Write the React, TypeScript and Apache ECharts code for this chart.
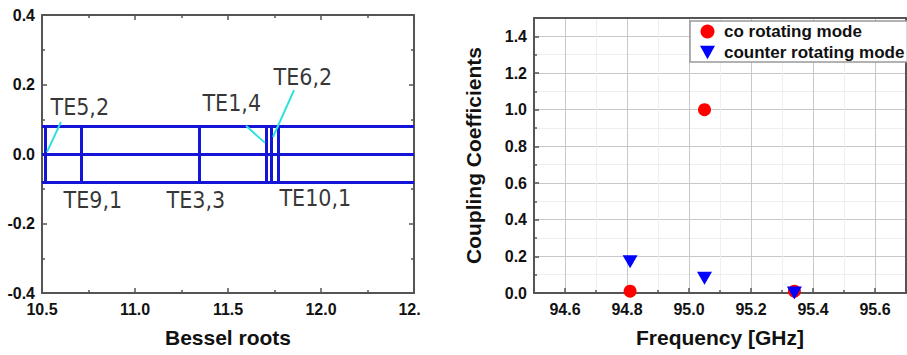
import React, { useEffect, useRef } from "react";
import * as echarts from "echarts";

// ---- Left panel: Bessel roots ----
const hLevels = [0.08, 0, -0.08];
const modeNames = ["TE5,2", "TE9,1", "TE3,3", "TE1,4", "TE6,2", "TE10,1"];
const besselRoots = [10.52, 10.71, 11.345, 11.703, 11.732, 11.768];
const labelX = [10.543, 10.613, 11.167, 11.36, 11.742, 11.774];
const labelY = [0.135, -0.132, -0.132, 0.147, 0.222, -0.127];
const pointerFrom = [
  [10.602, 0.092],
  [11.597, 0.081],
  [11.855, 0.184],
];
const pointerTo = [
  [10.527, 0.006],
  [11.699, 0.032],
  [11.742, 0.049],
];
const besselRange = [10.5, 12.5];
const rootHalfHeight = 0.08;

// ---- Right panel: coupling coefficients ----
const freqs = [94.81, 95.05, 95.34];
const coRotating = [0.01, 1.0, 0.01];
const counterRotating = [0.17, 0.08, 0.0];

const FONT = "'Liberation Sans', Arial, sans-serif";
const NARROW = "'Liberation Sans Narrow', 'Arial Narrow', 'DejaVu Sans Condensed', sans-serif";
const AXIS_COLOR = "#555";

export default function App() {
  const ref = useRef<HTMLDivElement>(null);
  useEffect(() => {
    if (!ref.current) return;
    const chart = echarts.init(ref.current, undefined, { renderer: "svg" });

    const axisLine = { show: true, onZero: false, lineStyle: { color: AXIS_COLOR, width: 2 } };
    const tick = { show: true, inside: true, length: 5, lineStyle: { color: AXIS_COLOR, width: 1.5 } };
    const minorTick = { show: true, splitNumber: 2, length: 3, lineStyle: { color: AXIS_COLOR, width: 1.5 } };
    const label = { color: "#111", fontSize: 16, fontWeight: "bold" as const, fontFamily: FONT };
    const nameStyle = { color: "#111", fontSize: 21, fontWeight: "bold" as const, fontFamily: FONT };

    const hLines = hLevels.map((y) => ({ coords: [[besselRange[0], y], [besselRange[1], y]] }));
    const vLines = besselRoots.map((x) => ({ coords: [[x, -rootHalfHeight], [x, rootHalfHeight]] }));
    const pointers = pointerFrom.map((p, i) => ({ coords: [p, pointerTo[i]] }));
    const labels = modeNames.map((n, i) => ({ name: n, value: [labelX[i], labelY[i]] }));

    chart.setOption({
      animation: false,
      grid: [
        { left: 42, top: 15, width: 372, height: 278 },
        { left: 534, top: 18, width: 372, height: 275 },
      ],
      xAxis: [
        {
          gridIndex: 0, type: "value", min: 10.5, max: 12.5, interval: 0.5,
          axisLine, axisTick: tick, minorTick, splitLine: { show: false },
          axisLabel: { ...label, margin: 8, formatter: (v: number) => v.toFixed(1) },
          name: "Bessel roots", nameLocation: "middle", nameGap: 34, nameTextStyle: nameStyle,
        },
        {
          gridIndex: 0, type: "value", position: "top", min: 10.5, max: 12.5, interval: 0.5,
          axisLine, axisTick: tick, minorTick, splitLine: { show: false }, axisLabel: { show: false },
        },
        {
          gridIndex: 1, type: "value", min: 94.5, max: 95.7, splitNumber: 6,
          axisLine, axisTick: tick, minorTick,
          splitLine: { show: true, lineStyle: { color: "#c8c8c8", width: 1 } },
          minorSplitLine: { show: true, lineStyle: { color: "#efefef", width: 1 } },
          axisLabel: { ...label, margin: 8, showMinLabel: false, showMaxLabel: false, formatter: (v: number) => v.toFixed(1) },
          name: "Frequency [GHz]", nameLocation: "middle", nameGap: 34, nameTextStyle: nameStyle,
        },
        {
          gridIndex: 1, type: "value", position: "top", min: 94.5, max: 95.7, splitNumber: 6,
          axisLine, axisTick: { show: false }, splitLine: { show: false }, axisLabel: { show: false },
        },
      ],
      yAxis: [
        {
          gridIndex: 0, type: "value", min: -0.4, max: 0.4, interval: 0.2,
          axisLine, axisTick: tick, minorTick, splitLine: { show: false },
          axisLabel: { ...label, margin: 7, formatter: (v: number) => v.toFixed(1) },
        },
        {
          gridIndex: 0, type: "value", position: "right", min: -0.4, max: 0.4, interval: 0.2,
          axisLine, axisTick: tick, minorTick, splitLine: { show: false }, axisLabel: { show: false },
        },
        {
          gridIndex: 1, type: "value", min: 0, max: 1.5, interval: 0.2,
          axisLine, axisTick: tick, minorTick,
          splitLine: { show: true, lineStyle: { color: "#c8c8c8", width: 1 } },
          minorSplitLine: { show: true, lineStyle: { color: "#efefef", width: 1 } },
          axisLabel: { ...label, margin: 7, showMaxLabel: false, formatter: (v: number) => v.toFixed(1) },
          name: "Coupling Coefficients", nameLocation: "middle", nameGap: 50, nameTextStyle: nameStyle,
        },
        {
          gridIndex: 1, type: "value", position: "right", min: 0, max: 1.5, interval: 0.2,
          axisLine, axisTick: { show: false }, splitLine: { show: false }, axisLabel: { show: false },
        },
      ],
      legend: {
        data: [
          { name: "co rotating mode", icon: "circle" },
          { name: "counter rotating mode", icon: "path://M0,0 L10,0 L5,9 Z" },
        ],
        orient: "vertical", left: 690, top: 21,
        itemWidth: 15, itemHeight: 14, itemGap: 4,
        padding: [2, 3, 1, 10],
        backgroundColor: "#fff", borderColor: "#999", borderWidth: 1.5, borderRadius: 0,
        textStyle: { color: "#111", fontSize: 17, fontWeight: "bold", fontFamily: FONT, padding: [0, 0, 0, 4] },
      },
      graphic: [
        { type: "rect", left: 421, top: 0, z: 100, shape: { width: 34, height: 355 }, style: { fill: "#fff" } },
      ],
      series: [
        {
          type: "lines", coordinateSystem: "cartesian2d", xAxisIndex: 0, yAxisIndex: 0,
          data: [...hLines, ...vLines], symbol: "none",
          lineStyle: { color: "#1515d8", width: 3, opacity: 1 }, z: 3,
        },
        {
          type: "lines", coordinateSystem: "cartesian2d", xAxisIndex: 0, yAxisIndex: 0,
          data: pointers, symbol: "none",
          lineStyle: { color: "#2ee0e0", width: 2, opacity: 1 }, z: 4,
        },
        {
          type: "scatter", xAxisIndex: 0, yAxisIndex: 0, data: labels, symbolSize: 1,
          itemStyle: { color: "rgba(0,0,0,0)" }, silent: true,
          label: {
            show: true, position: "right", distance: 0, formatter: "{b}",
            color: "#000", fontSize: 23, fontFamily: NARROW,
          },
        },
        {
          name: "co rotating mode", type: "scatter", xAxisIndex: 2, yAxisIndex: 2,
          data: freqs.map((f, i) => [f, coRotating[i]]),
          symbol: "circle", symbolSize: 13, itemStyle: { color: "#ff0000", opacity: 1 }, z: 5,
        },
        {
          name: "counter rotating mode", type: "scatter", xAxisIndex: 2, yAxisIndex: 2,
          data: freqs.map((f, i) => [f, counterRotating[i]]),
          symbol: "triangle", symbolRotate: 180, symbolSize: [15, 13], itemStyle: { color: "#0000ff", opacity: 1 }, z: 6,
        },
      ],
    });
    return () => chart.dispose();
  }, []);
  return <div ref={ref} style={{ position: "fixed", left: 0, top: 0, width: 907, height: 355, background: "#fff" }} />;
}
